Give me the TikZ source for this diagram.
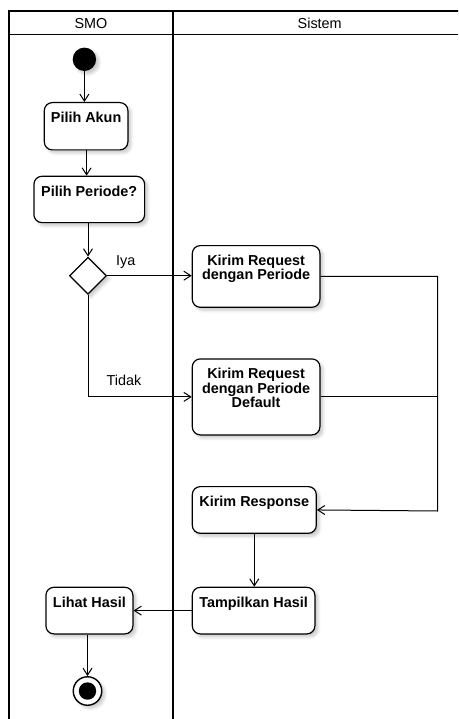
\documentclass[tikz,border=0pt]{standalone}
\usepackage{fontspec}
\setmainfont{Liberation Sans}
\usetikzlibrary{arrows.meta,shapes.geometric,shadows.blur}

\tikzset{
  x=1pt, y=-1pt,
  lane/.style={line width=1.7pt},
  softshadow/.style={blur shadow={shadow xshift=3pt, shadow yshift=-3pt,
      shadow blur radius=3pt, shadow blur steps=6, shadow opacity=22}},
  action/.style={draw, line width=1.2pt, rounded corners=8pt, fill=white,
      softshadow, inner sep=0pt, anchor=north west},
  boxtext/.style={anchor=north, inner sep=0pt, align=center, yshift=-9.7pt,
      font=\bfseries\fontsize{14.4}{14.5}\selectfont},
  plain/.style={inner sep=0pt, font=\fontsize{14.4}{16}\selectfont},
  flow/.style={line width=1pt, -{Straight Barb[length=7pt,width=9pt]}},
  link/.style={line width=1pt},
  decision/.style={draw, diamond, aspect=1, minimum size=37pt, inner sep=0pt,
      line width=1.2pt, fill=white, softshadow},
}

% action box: name, left, top, width, height, label
\newcommand{\actbox}[6]{%
  \node[action, minimum width=#4pt, minimum height=#5pt,
        label={[boxtext]north:{#6}}] (#1) at (#2,#3) {};}

\begin{document}
\begin{tikzpicture}
\useasboundingbox (0,0) rectangle (458,719);
\clip (0,0) rectangle (458,719);

% swimlane frame (the lane on the right runs past the page edge)
\draw[lane] (9,740) -- (9,11) -- (480,11);
\draw[lane] (9,34.5) -- (480,34.5);
\draw[lane] (173,11) -- (173,740);
\node[plain] (laneA) at (91,23.3) {SMO};
\node[plain] (laneB) at (319.7,23.3) {Sistem};

% initial node
\node[circle, fill=black, minimum size=23.4pt, inner sep=0pt, softshadow]
  (start) at (84.4,59.3) {};

% actions
\actbox{akun}{43.7}{102}{83.6}{47.3}{Pilih Akun}
\actbox{periode}{33.3}{175.7}{110.7}{46.3}{Pilih Periode?}
\actbox{req}{191.7}{245}{127.6}{61.7}{Kirim Request\\dengan Periode}
\actbox{reqdef}{191.7}{358.3}{127.6}{76}{Kirim Request\\dengan Periode\\Default}
\actbox{resp}{191.7}{486}{124}{46.7}{Kirim Response}
\actbox{tampil}{191.7}{586.7}{122.6}{46.6}{Tampilkan Hasil}
\actbox{lihat}{45.3}{586.7}{87}{46.6}{Lihat Hasil}

% decision
\node[decision] (dec) at (88,275.7) {};

% final node
\node[circle, draw, line width=1.4pt, minimum size=28.5pt, inner sep=0pt,
      fill=white, softshadow] (final) at (87.5,691) {};
\node[circle, fill=black, minimum size=17.4pt, inner sep=0pt] (finaldot) at (final) {};

% guard labels
\node[plain] (iya) at (125.7,262) {Iya};
\node[plain] (tidak) at (124,380) {Tidak};

% merge point on the right
\coordinate (join) at (437.7,511);

% control flow
\draw[flow] (start) -- (start |- akun.north);
\draw[flow] (akun.south) ++(0.5,0) coordinate (akunout) -- (akunout |- periode.north);
\draw[flow] (periode.south -| dec) -- (dec.north);
\draw[flow] (dec.east) -- (dec.east -| req.west);
\draw[flow] (dec.south) |- (reqdef.west);
\draw[flow] (req.east) -| (join) -- (resp.east);
\draw[link] (reqdef.east) -- (reqdef.east -| join);
\draw[flow] (resp.south) -- (resp.south |- tampil.north);
\draw[flow] (tampil.west) -- (tampil.west -| lihat.east);
\draw[flow] (lihat.south -| final) -- (final.north);
\end{tikzpicture}
\end{document}
